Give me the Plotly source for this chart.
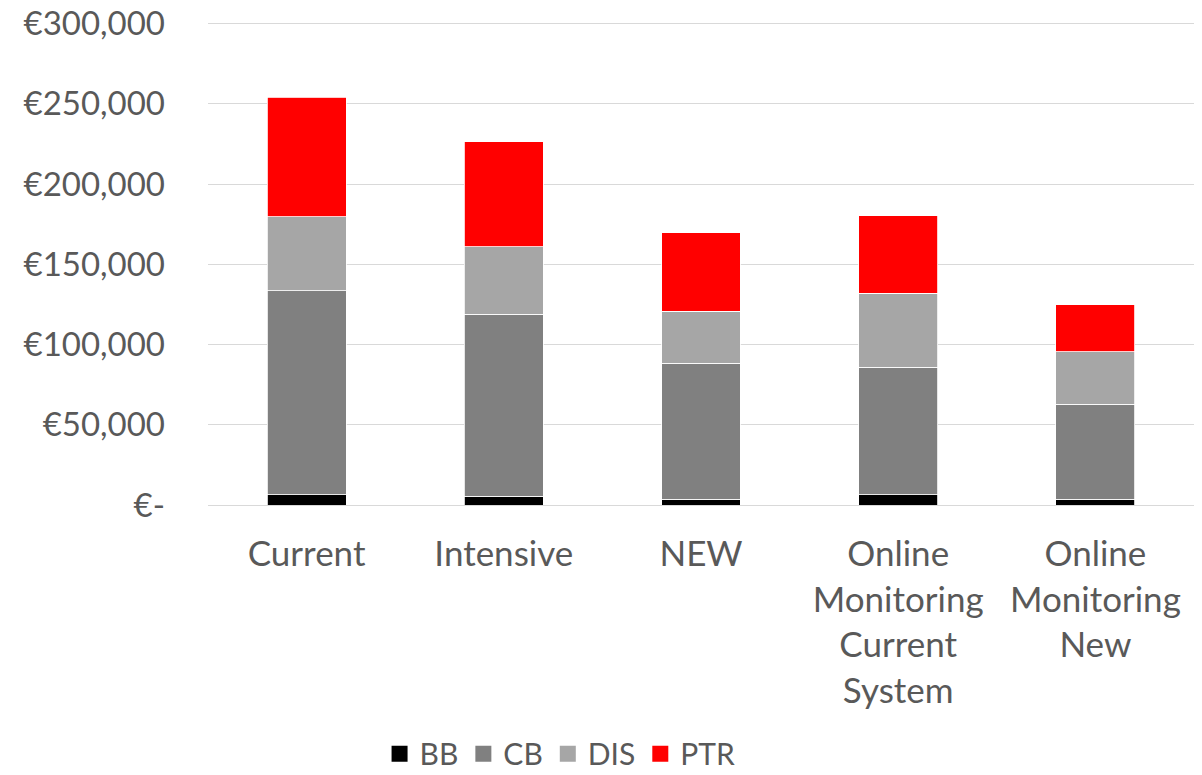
import plotly.graph_objects as go

# Cost breakdown per maintenance strategy (EUR)
categories = [
    "Current",
    "Intensive",
    "NEW",
    "Online<br>Monitoring<br>Current<br>System",
    "Online<br>Monitoring<br>New",
]
bb = [6400, 5400, 3700, 6400, 3700]
cb = [127000, 113400, 84600, 79600, 59000]
dis = [46300, 42200, 32600, 45900, 32900]
ptr = [74400, 65500, 48900, 48500, 29300]

tick_vals = [0, 50000, 100000, 150000, 200000, 250000, 300000]
tick_text = ["€-", "€50,000", "€100,000", "€150,000", "€200,000", "€250,000", "€300,000"]

series = [
    ("BB", bb, "#000000"),
    ("CB", cb, "#808080"),
    ("DIS", dis, "#a6a6a6"),
    ("PTR", ptr, "#ff0000"),
]

FONT = "Lato"
TEXT_COLOR = "#595959"

fig = go.Figure()
for name, vals, color in series:
    fig.add_trace(go.Bar(
        name=name,
        x=categories,
        y=vals,
        marker=dict(color=color, line=dict(color="#ffffff", width=0.8)),
        showlegend=False,
    ))

# Legend entries with larger square swatches
for name, _, color in series:
    fig.add_trace(go.Scatter(
        name=name,
        x=[None],
        y=[None],
        mode="markers",
        marker=dict(symbol="square", size=16, color=color),
        showlegend=True,
    ))

fig.update_layout(
    barmode="stack",
    bargap=0.6,
    width=1202,
    height=775,
    margin=dict(l=208, r=8, t=22, b=270, autoexpand=False),
    paper_bgcolor="#ffffff",
    plot_bgcolor="#ffffff",
    font=dict(family=FONT, color=TEXT_COLOR, size=32),
    showlegend=True,
    legend=dict(
        orientation="h",
        x=0.174, xanchor="left",
        y=-0.515, yanchor="middle",
        font=dict(size=30, color=TEXT_COLOR, family=FONT),
        itemwidth=30,
        itemsizing="trace",
        traceorder="normal",
        bgcolor="rgba(0,0,0,0)",
    ),
    xaxis=dict(
        showgrid=False,
        showline=False,
        ticks="",
        automargin=False,
        tickfont=dict(size=35, color=TEXT_COLOR, family=FONT),
        ticklabelstandoff=25,
    ),
    yaxis=dict(
        range=[0, 301000],
        tickvals=tick_vals,
        ticktext=tick_text,
        showgrid=True,
        gridcolor="#d9d9d9",
        gridwidth=1.3,
        zeroline=True,
        zerolinecolor="#d9d9d9",
        zerolinewidth=1.3,
        showline=False,
        ticks="",
        automargin=False,
        tickfont=dict(size=33, color=TEXT_COLOR, family=FONT),
        ticklabelstandoff=42,
    ),
)

fig.write_html("out.html")
